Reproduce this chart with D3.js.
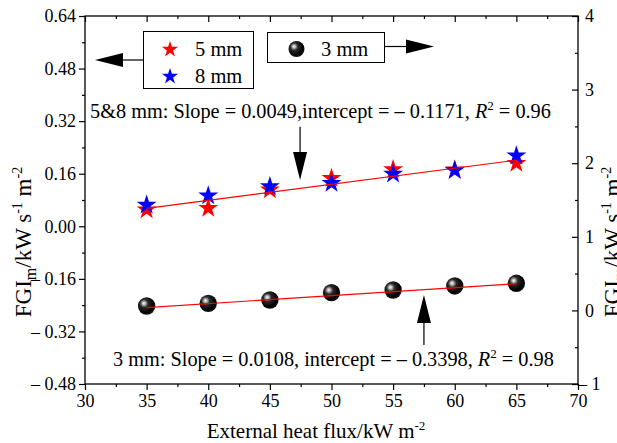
<!DOCTYPE html>
<html>
<head>
<meta charset="utf-8">
<script src="https://cdn.jsdelivr.net/npm/d3@7"></script>
<style>
  body { margin: 0; background: #fff; }
  svg { display: block; }
  svg text { font-family: 'Liberation Serif', 'Times New Roman', 'DejaVu Serif', serif; }
</style>
</head>
<body>
<svg id="chart" width="617" height="443"></svg>
<script>
// data
const flux = [35, 40, 45, 50, 55, 60, 65];
const fgi5mm = [0.050, 0.055, 0.111, 0.146, 0.173, 0.172, 0.192];
const fgi8mm = [0.065, 0.093, 0.121, 0.131, 0.159, 0.170, 0.215];
const fgi3mm = [0.060, 0.096, 0.141, 0.241, 0.277, 0.332, 0.368];
const fit58 = [0.0049, -0.1171];   // slope, intercept (left axis)
const fit3 = [0.0108, -0.3398];    // slope, intercept (right axis)

const xTicks = [30, 35, 40, 45, 50, 55, 60, 65, 70];
const yLeftTicks = [0.64, 0.48, 0.32, 0.16, 0.00, -0.16, -0.32, -0.48];
const yRightTicks = [4, 3, 2, 1, 0, -1];

const margin = { top: 16, right: 39, bottom: 59, left: 85 };
const W = 617, H = 443;
const width = W - margin.left - margin.right;
const height = H - margin.top - margin.bottom;

const svg = d3.select('#chart');
const defs = svg.append('defs');
const grad = defs.append('radialGradient')
    .attr('id', 'ball')
    .attr('cx', '38%').attr('cy', '38%').attr('r', '62%')
    .attr('fx', '34%').attr('fy', '34%');
grad.append('stop').attr('offset', '0%').attr('stop-color', '#ffffff');
grad.append('stop').attr('offset', '14%').attr('stop-color', '#bdbdbd');
grad.append('stop').attr('offset', '38%').attr('stop-color', '#2a2a2a');
grad.append('stop').attr('offset', '85%').attr('stop-color', '#000');
grad.append('stop').attr('offset', '100%').attr('stop-color', '#111');

const g = svg.append('g').attr('transform', `translate(${margin.left},${margin.top})`);

// Scales
const x = d3.scaleLinear().domain([30, 70]).range([0, width]);
const yL = d3.scaleLinear().domain([-0.48, 0.64]).range([height, 0]);
const yR = d3.scaleLinear().domain([-1, 4]).range([height, 0]);

const fmtL = d => d < 0 ? '\u2013 ' + d3.format('.2f')(-d) : d3.format('.2f')(d);
const fmtR = d => d < 0 ? '\u2013 ' + (-d) : String(d);

const minorX = d3.range(32.5, 70, 5);
const minorL = d3.range(-0.40, 0.64, 0.16);
const minorR = d3.range(-0.5, 4, 1);

function styleAxis(sel) {
    sel.select('.domain').remove();
    sel.selectAll('line').attr('stroke', '#000').attr('stroke-width', 1.2);
    sel.attr('font-family', null).attr('font-size', 18).attr('fill', '#000');
    sel.selectAll('text').attr('fill', '#000');
}

// bottom
g.append('g').attr('transform', `translate(0,${height})`)
    .call(d3.axisBottom(x).tickValues(xTicks).tickSize(6).tickPadding(4))
    .call(styleAxis);
g.append('g').attr('transform', `translate(0,${height})`)
    .call(d3.axisBottom(x).tickValues(minorX).tickSize(3).tickFormat(''))
    .call(styleAxis);
// top (inward)
g.append('g')
    .call(d3.axisTop(x).tickValues(xTicks).tickSize(-6).tickFormat(''))
    .call(styleAxis);
g.append('g')
    .call(d3.axisTop(x).tickValues(minorX).tickSize(-3).tickFormat(''))
    .call(styleAxis);
// left
g.append('g')
    .call(d3.axisLeft(yL).tickValues(yLeftTicks).tickSize(6).tickPadding(3).tickFormat(fmtL))
    .call(styleAxis);
g.append('g')
    .call(d3.axisLeft(yL).tickValues(minorL).tickSize(3).tickFormat(''))
    .call(styleAxis);
// right (inward)
const axR = g.append('g').attr('transform', `translate(${width},0)`)
    .call(d3.axisRight(yR).tickValues(yRightTicks).tickSize(-6).tickPadding(7).tickFormat(fmtR))
    .call(styleAxis);
axR.selectAll('.tick text').filter(d => d < 0).attr('dx', -7);
g.append('g').attr('transform', `translate(${width},0)`)
    .call(d3.axisRight(yR).tickValues(minorR).tickSize(-3).tickFormat(''))
    .call(styleAxis);

// frame
g.append('rect')
    .attr('width', width).attr('height', height)
    .attr('fill', 'none').attr('stroke', '#000').attr('stroke-width', 1.3);

// star symbol
function starPath(R) {
    const r = R * 0.382;
    const pts = [];
    for (let i = 0; i < 10; i++) {
        const a = -Math.PI / 2 + i * Math.PI / 5;
        const rr = i % 2 ? r : R;
        pts.push([rr * Math.cos(a), rr * Math.sin(a)]);
    }
    return 'M' + pts.map(p => p.join(',')).join('L') + 'Z';
}

function drawStars(values, color) {
    g.selectAll(null)
        .data(values)
        .enter()
        .append('path')
        .attr('d', starPath(10.5))
        .attr('transform', (d, i) => `translate(${x(flux[i])},${yL(d)})`)
        .attr('fill', color);
}
drawStars(fgi5mm, '#ff0000');
drawStars(fgi8mm, '#0000ff');

g.selectAll('.ball')
    .data(fgi3mm)
    .enter()
    .append('circle')
    .attr('class', 'ball')
    .attr('cx', (d, i) => x(flux[i]))
    .attr('cy', d => yR(d))
    .attr('r', 8.7)
    .attr('fill', 'url(#ball)');

// fit lines
const xEnds = d3.extent(flux);
g.append('line')
    .attr('x1', x(xEnds[0])).attr('y1', yL(fit58[0] * xEnds[0] + fit58[1]))
    .attr('x2', x(xEnds[1])).attr('y2', yL(fit58[0] * xEnds[1] + fit58[1]))
    .attr('stroke', '#ff0000').attr('stroke-width', 1.1);
g.append('line')
    .attr('x1', x(xEnds[0])).attr('y1', yR(fit3[0] * xEnds[0] + fit3[1]))
    .attr('x2', x(xEnds[1])).attr('y2', yR(fit3[0] * xEnds[1] + fit3[1]))
    .attr('stroke', '#ff0000').attr('stroke-width', 1.1);

// arrows
function arrow(x1, y1, x2, y2, len, half) {
    const ang = Math.atan2(y2 - y1, x2 - x1);
    const bx = x2 - len * Math.cos(ang), by = y2 - len * Math.sin(ang);
    svg.append('line')
        .attr('x1', x1).attr('y1', y1).attr('x2', bx).attr('y2', by)
        .attr('stroke', '#000').attr('stroke-width', 1.2);
    const nx = -Math.sin(ang) * half, ny = Math.cos(ang) * half;
    svg.append('path')
        .attr('d', `M${x2},${y2}L${bx + nx},${by + ny}L${bx - nx},${by - ny}Z`)
        .attr('fill', '#000');
}
const ox = margin.left, oy = margin.top;
arrow(ox + x(47.45), oy + yL(0.303), ox + x(47.45), oy + yL(0.141), 28, 7);
arrow(ox + x(57.5), oy + yR(-0.47), ox + x(57.5), oy + yR(0.209), 28, 7);

// legend boxes
svg.append('rect').attr('x', 143.5).attr('y', 31.5).attr('width', 110).attr('height', 57)
    .attr('fill', '#fff').attr('stroke', '#000').attr('stroke-width', 1);
svg.append('path').attr('d', starPath(8.5)).attr('transform', 'translate(170,49.5)').attr('fill', '#ff0000');
svg.append('path').attr('d', starPath(8.5)).attr('transform', 'translate(170,76.5)').attr('fill', '#0000ff');
svg.append('rect').attr('x', 267.5).attr('y', 32.5).attr('width', 117).attr('height', 30)
    .attr('fill', '#fff').attr('stroke', '#000').attr('stroke-width', 1);
svg.append('circle').attr('cx', 296.5).attr('cy', 49).attr('r', 8).attr('fill', 'url(#ball)');
arrow(143.5, 60, 95, 60, 28, 7);
arrow(384.5, 46.5, 434, 46.5, 28, 7);

const txt = svg.append('g').attr('fill', '#000');
txt.append('text').attr('x', 195).attr('y', 56).attr('font-size', 20.5).text('5 mm');
txt.append('text').attr('x', 195).attr('y', 83).attr('font-size', 20.5).text('8 mm');
txt.append('text').attr('x', 321).attr('y', 56).attr('font-size', 20.5).text('3 mm');

function fitText(xp, yp, label, r2) {
    const t = txt.append('text').attr('x', xp).attr('y', yp).attr('font-size', 20.3);
    t.append('tspan').text(label);
    t.append('tspan').attr('font-style', 'italic').text('R');
    t.append('tspan').attr('font-size', 13).attr('dy', -8).text('2');
    t.append('tspan').attr('dy', 8).text(' = ' + r2);
}
fitText(90, 118, '5&8 mm: Slope = 0.0049,intercept = \u2013 0.1171, ', '0.96');
fitText(113, 366, '3 mm: Slope = 0.0108, intercept = \u2013 0.3398, ', '0.98');

// axis titles
const xt = txt.append('text').attr('x', 316).attr('y', 438)
    .attr('text-anchor', 'middle').attr('font-size', 21);
xt.append('tspan').text('External heat flux/kW m');
xt.append('tspan').attr('font-size', 13).attr('dy', -8).text('-2');

function yTitle(cx, cy) {
    const t = txt.append('text')
        .attr('transform', `translate(${cx},${cy}) rotate(-90)`)
        .attr('text-anchor', 'middle').attr('font-size', 23);
    t.append('tspan').text('FGI');
    t.append('tspan').attr('font-size', 16).attr('dy', 5).text('m');
    t.append('tspan').attr('dy', -5).text('/kW s');
    t.append('tspan').attr('font-size', 14).attr('dy', -9).text('-1');
    t.append('tspan').attr('dy', 9).text(' m');
    t.append('tspan').attr('font-size', 14).attr('dy', -9).text('-2');
}
yTitle(31, 242);
yTitle(620, 242);
</script>
</body>
</html>
